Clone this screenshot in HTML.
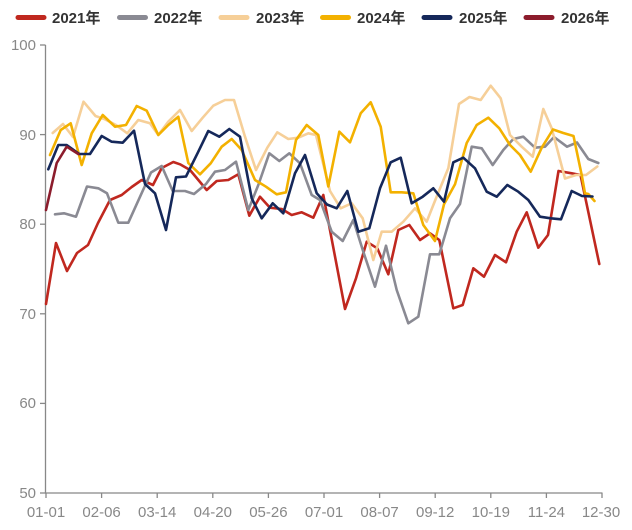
<!DOCTYPE html>
<html>
<head>
<meta charset="utf-8">
<style>
html,body{margin:0;padding:0;background:#fff;}
svg{display:block;}
.lg{font-family:"Liberation Sans","Noto Sans CJK SC",sans-serif;font-size:15px;font-weight:bold;fill:#333;}
.ax{font-family:"Liberation Sans",sans-serif;font-size:15px;fill:#888;}
.s{fill:none;stroke-width:2.6;stroke-linejoin:round;stroke-linecap:round;}
</style>
</head>
<body>
<svg width="632" height="530" viewBox="0 0 632 530" xmlns="http://www.w3.org/2000/svg">
<!-- legend -->
<g>
<line x1="18" y1="17.5" x2="44" y2="17.5" stroke="#c0281f" stroke-width="5" stroke-linecap="round"/>
<text class="lg" x="52" y="23">2021年</text>
<line x1="119.5" y1="17.5" x2="145.5" y2="17.5" stroke="#8a8a93" stroke-width="5" stroke-linecap="round"/>
<text class="lg" x="154" y="23">2022年</text>
<line x1="221" y1="17.5" x2="247" y2="17.5" stroke="#f6cf98" stroke-width="5" stroke-linecap="round"/>
<text class="lg" x="256" y="23">2023年</text>
<line x1="322.5" y1="17.5" x2="348.5" y2="17.5" stroke="#f3b100" stroke-width="5" stroke-linecap="round"/>
<text class="lg" x="357" y="23">2024年</text>
<line x1="424" y1="17.5" x2="450" y2="17.5" stroke="#15285a" stroke-width="5" stroke-linecap="round"/>
<text class="lg" x="459" y="23">2025年</text>
<line x1="526" y1="17.5" x2="552" y2="17.5" stroke="#8c1c2c" stroke-width="5" stroke-linecap="round"/>
<text class="lg" x="561" y="23">2026年</text>
</g>
<!-- axes -->
<g stroke="#888" stroke-width="1.3" fill="none">
<line x1="45.5" y1="45" x2="45.5" y2="493"/>
<line x1="45" y1="493" x2="602.5" y2="493"/>
<line x1="40" y1="45" x2="45.5" y2="45"/>
<line x1="40" y1="134.6" x2="45.5" y2="134.6"/>
<line x1="40" y1="224.2" x2="45.5" y2="224.2"/>
<line x1="40" y1="313.8" x2="45.5" y2="313.8"/>
<line x1="40" y1="403.4" x2="45.5" y2="403.4"/>
<line x1="40" y1="493" x2="45.5" y2="493"/>
<line x1="46" y1="493" x2="46" y2="498"/>
<line x1="101.6" y1="493" x2="101.6" y2="498"/>
<line x1="157.2" y1="493" x2="157.2" y2="498"/>
<line x1="212.8" y1="493" x2="212.8" y2="498"/>
<line x1="268.4" y1="493" x2="268.4" y2="498"/>
<line x1="324" y1="493" x2="324" y2="498"/>
<line x1="379.6" y1="493" x2="379.6" y2="498"/>
<line x1="435.2" y1="493" x2="435.2" y2="498"/>
<line x1="490.8" y1="493" x2="490.8" y2="498"/>
<line x1="546.4" y1="493" x2="546.4" y2="498"/>
<line x1="602" y1="493" x2="602" y2="498"/>
</g>
<g class="ax" text-anchor="end">
<text x="36" y="50">100</text>
<text x="36" y="140">90</text>
<text x="36" y="229">80</text>
<text x="36" y="319">70</text>
<text x="36" y="408">60</text>
<text x="36" y="498">50</text>
</g>
<g class="ax" text-anchor="middle">
<text x="46" y="517">01-01</text>
<text x="101.6" y="517">02-06</text>
<text x="157.2" y="517">03-14</text>
<text x="212.8" y="517">04-20</text>
<text x="268.4" y="517">05-26</text>
<text x="324" y="517">07-01</text>
<text x="379.6" y="517">08-07</text>
<text x="435.2" y="517">09-12</text>
<text x="490.8" y="517">10-19</text>
<text x="546.4" y="517">11-24</text>
<text x="601" y="517">12-30</text>
</g>
<!-- series -->
<polyline class="s" stroke="#c0281f" points="46,304 56,243 67,271 77,253 88,245 98,223 110,200 121.7,195 131.7,187 141.7,180 153,185 161.7,168 173.3,162 180,164.3 190,170 206.7,190 216.7,181 228.3,180 238.3,174.3 249.3,215.7 260,196.7 270,207.7 281.7,209 291.7,215 301.7,212.3 313.3,217.7 323.3,195 345,309 356,278.3 366.7,241.7 377.3,248.3 388.3,274.3 398.3,230 409.3,225 420,240 430,233.3 439.3,240 453.3,308.3 462.7,305 473.3,268.3 484,276.7 495,255 506,262.3 516.7,231.7 526.7,212.3 538.3,247.7 548,235 558.5,171 571.7,173.3 580.5,175 599.3,264"/>
<polyline class="s" stroke="#8a8a93" points="55,214.3 64,213.3 76,216.7 87,186.5 98.3,188.3 107,193.3 118.3,222.7 128.3,222.7 151,172.5 161.7,166 172.7,191 185,191 194,194 206,184 215,171.7 225,170 236,161.7 248.3,210 258.3,185 269.3,153.3 279.3,161 289.3,153.3 300,163.3 311.7,195 320,200 331.7,231.7 342.7,241 353.3,220 363.3,251.7 375,286.7 386,245.7 396.7,290 408.3,323.3 418.3,316.7 430,254.3 439.3,254.3 450,218.3 460,204 471.7,146.7 481.7,148.3 492.7,165 503.3,150 513.3,139 523.3,136.7 535,147.7 545,146.7 554,137 567,146.7 577,142.5 588.3,159 598.3,163"/>
<polyline class="s" stroke="#f6cf98" points="52.7,133 63,124 73,137 83.5,101.7 95.5,116 105,119.3 116,125 127.3,133.3 138.3,120 150,123.3 158.3,135 168.3,121.7 180,110 191.7,131 202.7,117.7 213.3,105.7 225,100 234,100 245,136.7 256,170 267.3,147.7 277.3,132.3 288.3,139 298.3,137.7 308.3,133.3 316,135 330,191 340.7,208.3 351.7,203.3 362.7,218.3 373.3,260 381.7,231.7 391.7,231.7 403.3,221.7 415,208.3 426.7,221.7 437.3,195 448.3,168.3 459,104 469.5,97 480.7,100 490.7,85.7 500.7,98.3 510,135 521.7,146.7 532.7,156.7 543.3,109 551.7,128.3 565,178.5 576,175 586,175 597.3,166.5"/>
<polyline class="s" stroke="#f3b100" points="50,155 60.7,130 70.7,123.3 81.7,165 91.7,133.3 102.7,115 115,126.7 126,125 136.7,106 146.7,110.7 158.3,135 168.3,125 178.3,116.7 188.3,163 200,174.3 210.7,163.3 221.7,146.7 231.7,139 241.7,150 255,180 266,186.7 276.7,194.3 286,192.3 296,140 306.7,125 318.3,135 328.3,186.5 339.3,131.7 350,142.3 360.7,113.3 370.7,102.3 380.7,126.7 390.7,192.3 401.7,192.3 413.3,193.3 423.3,225 435,241 444,204.3 455,184.3 466.7,143 476.7,125 488.3,117.7 499.3,128.3 510,145 520,155 530.7,171.7 541.7,147.7 553,129.5 563.3,133 573.5,136 581.7,175 585,193.3 588.3,194 594.5,201"/>
<polyline class="s" stroke="#15285a" points="48.3,169.3 58.3,145 66.7,145 79.3,154 90,154 101.7,136 111.7,141.7 122.7,142.7 134,130.7 145,184 155,193.3 166,230 176,177.3 186,176.5 198.3,151.7 208.3,131 219.3,136.7 229.3,129 240,136.7 251.7,198.3 261.7,218.3 272.7,203.3 283.3,213.3 295,173.3 305,155 316.7,193.3 327,204.5 336.7,208.3 347.3,191 358.3,231.7 369.3,228.3 380,188.3 390.7,162.3 400.7,157.7 411.7,203.3 422.7,196.7 433.3,188.3 444,201.7 453.3,162.3 463.3,157.7 475,168.3 486.7,191.7 496.7,196.7 507.3,185 518.3,191.7 528.3,200 540,216.7 550.7,218.3 561,219.3 571.7,191 582,196 592.5,196.5"/>
<polyline class="s" stroke="#8c1c2c" points="46,210 56.7,163 66.7,146.7 78.3,154"/>
</svg>
</body>
</html>
